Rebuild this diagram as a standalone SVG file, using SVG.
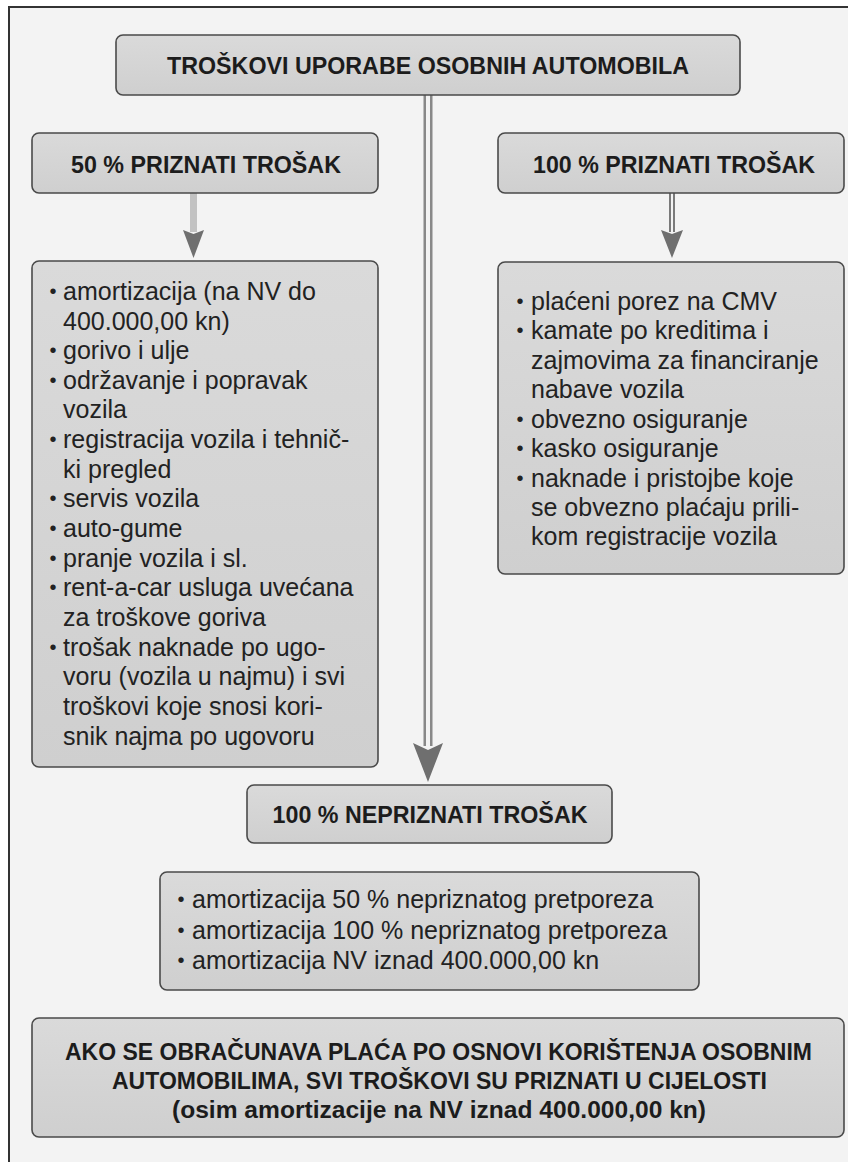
<svg xmlns="http://www.w3.org/2000/svg" width="848" height="1162" viewBox="0 0 848 1162">
<defs>
<linearGradient id="boxfill" x1="0" y1="0" x2="0" y2="1">
<stop offset="0" stop-color="#dadada"/>
<stop offset="1" stop-color="#cfcfcf"/>
</linearGradient>
<style>
.box{fill:url(#boxfill);stroke:#4a4a4a;stroke-width:1.6}
.hd{font-family:"Liberation Sans",Arial,sans-serif;font-weight:bold;font-size:23px;fill:#1c1c1c;text-anchor:middle}
.tx{font-family:"Liberation Sans",Arial,sans-serif;font-size:25px;fill:#222}
.bl{font-family:"Liberation Sans",Arial,sans-serif;font-size:20px;fill:#222;text-anchor:middle}
.head{fill:#6f6f6f}
</style>
</defs>
<rect x="0" y="0" width="848" height="1162" fill="#ffffff"/>
<rect x="9" y="7" width="839" height="1155" fill="#f3f3f3"/>
<path d="M9,1162 V7 H848" fill="none" stroke="#333" stroke-width="2"/>

<g id="connectors">
<line x1="428" y1="95" x2="428" y2="746" stroke="#888" stroke-width="9"/>
<line x1="428" y1="95" x2="428" y2="746" stroke="#f2f2f2" stroke-width="4"/>
<polygon class="head" points="413,743 428,750 443,743 428,782"/>
<rect x="190" y="193" width="7" height="39" fill="#c2c2c2"/>
<polygon class="head" points="183,230 193.5,234 204,230 193.5,258"/>
<line x1="672" y1="193" x2="672" y2="232" stroke="#7a7a7a" stroke-width="6"/>
<line x1="672" y1="193" x2="672" y2="232" stroke="#f2f2f2" stroke-width="2"/>
<polygon class="head" points="661,230 672,234 683,230 672,258"/>
</g>

<g id="node-top">
<rect class="box" x="116" y="35" width="624" height="60" rx="7"/>
<text class="hd" x="428" y="74" font-size="25" textLength="522" lengthAdjust="spacingAndGlyphs">TROŠKOVI UPORABE OSOBNIH AUTOMOBILA</text>
</g>

<g id="node-50">
<rect class="box" x="32" y="133" width="346" height="60" rx="7"/>
<text class="hd" x="206" y="173" textLength="270" lengthAdjust="spacingAndGlyphs">50 % PRIZNATI TROŠAK</text>
</g>

<g id="node-100">
<rect class="box" x="498" y="133" width="346" height="60" rx="7"/>
<text class="hd" x="674" y="173" textLength="282" lengthAdjust="spacingAndGlyphs">100 % PRIZNATI TROŠAK</text>
</g>

<g id="node-50-list">
<rect class="box" x="32" y="261" width="346" height="506" rx="7"/>
<text class="bl" x="53" y="298">•</text>
<text class="tx" x="63" y="300">amortizacija (na NV do</text>
<text class="tx" x="63" y="330">400.000,00 kn)</text>
<text class="bl" x="53" y="357">•</text>
<text class="tx" x="63" y="359">gorivo i ulje</text>
<text class="bl" x="53" y="387">•</text>
<text class="tx" x="63" y="389">održavanje i popravak</text>
<text class="tx" x="63" y="418">vozila</text>
<text class="bl" x="53" y="446">•</text>
<text class="tx" x="63" y="448">registracija vozila i tehnič-</text>
<text class="tx" x="63" y="478">ki pregled</text>
<text class="bl" x="53" y="505">•</text>
<text class="tx" x="63" y="507">servis vozila</text>
<text class="bl" x="53" y="535">•</text>
<text class="tx" x="63" y="537">auto-gume</text>
<text class="bl" x="53" y="565">•</text>
<text class="tx" x="63" y="567">pranje vozila i sl.</text>
<text class="bl" x="53" y="594">•</text>
<text class="tx" x="63" y="596">rent-a-car usluga uvećana</text>
<text class="tx" x="63" y="626">za troškove goriva</text>
<text class="bl" x="53" y="654">•</text>
<text class="tx" x="63" y="656">trošak naknade po ugo-</text>
<text class="tx" x="63" y="685">voru (vozila u najmu) i svi</text>
<text class="tx" x="63" y="715">troškovi koje snosi kori-</text>
<text class="tx" x="63" y="745">snik najma po ugovoru</text>
</g>

<g id="node-100-list">
<rect class="box" x="498" y="262" width="346" height="312" rx="7"/>
<text class="bl" x="520" y="308">•</text>
<text class="tx" x="531" y="310">plaćeni porez na CMV</text>
<text class="bl" x="520" y="337">•</text>
<text class="tx" x="531" y="339">kamate po kreditima i</text>
<text class="tx" x="531" y="369">zajmovima za financiranje</text>
<text class="tx" x="531" y="398">nabave vozila</text>
<text class="bl" x="520" y="426">•</text>
<text class="tx" x="531" y="428">obvezno osiguranje</text>
<text class="bl" x="520" y="455">•</text>
<text class="tx" x="531" y="457">kasko osiguranje</text>
<text class="bl" x="520" y="485">•</text>
<text class="tx" x="531" y="487">naknade i pristojbe koje</text>
<text class="tx" x="531" y="516">se obvezno plaćaju prili-</text>
<text class="tx" x="531" y="545">kom registracije vozila</text>
</g>

<g id="node-nepriznati">
<rect class="box" x="247" y="785" width="365" height="58" rx="7"/>
<text class="hd" x="430" y="823" textLength="315" lengthAdjust="spacingAndGlyphs">100 % NEPRIZNATI TROŠAK</text>
</g>

<g id="node-nepriznati-list">
<rect class="box" x="160" y="872" width="539" height="118" rx="7"/>
<text class="bl" x="181" y="906">•</text>
<text class="tx" x="192" y="908">amortizacija 50 % nepriznatog pretporeza</text>
<text class="bl" x="181" y="937">•</text>
<text class="tx" x="192" y="939">amortizacija 100 % nepriznatog pretporeza</text>
<text class="bl" x="181" y="967">•</text>
<text class="tx" x="192" y="969">amortizacija NV iznad 400.000,00 kn</text>
</g>

<g id="node-note">
<rect class="box" x="32" y="1018" width="812" height="119" rx="7"/>
<text class="hd" x="438.5" y="1060" textLength="747" lengthAdjust="spacingAndGlyphs">AKO SE OBRAČUNAVA PLAĆA PO OSNOVI KORIŠTENJA OSOBNIM</text>
<text class="hd" x="439.5" y="1089" textLength="655" lengthAdjust="spacingAndGlyphs">AUTOMOBILIMA, SVI TROŠKOVI SU PRIZNATI U CIJELOSTI</text>
<text class="hd" x="439" y="1118" textLength="534" lengthAdjust="spacingAndGlyphs">(osim amortizacije na NV iznad 400.000,00 kn)</text>
</g>
</svg>
